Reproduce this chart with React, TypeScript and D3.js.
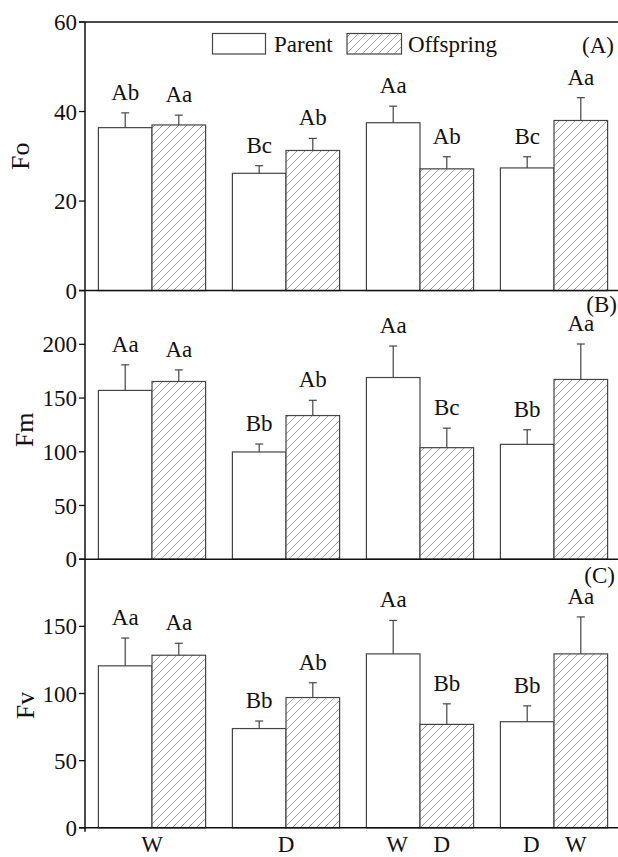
import React from "react";
import * as d3 from "d3";

// Treatments along the x axis and the two series drawn in each
const groups = ["G1", "G2", "G3", "G4"];
const series = ["Parent", "Offspring"];
const groupTickLabels = [["W"], ["D"], ["W", "D"], ["D", "W"]];

// Panel A: Fo
const foParent = [36.4, 26.2, 37.5, 27.4];
const foParentErr = [3.3, 1.7, 3.7, 2.5];
const foOffspring = [37.0, 31.3, 27.2, 38.0];
const foOffspringErr = [2.2, 2.7, 2.7, 5.1];
const foParentLetters = ["Ab", "Bc", "Aa", "Bc"];
const foOffspringLetters = ["Aa", "Ab", "Ab", "Aa"];
const foTicks = [0, 20, 40, 60];

// Panel B: Fm
const fmParent = [157.1, 99.8, 169.1, 106.9];
const fmParentErr = [23.8, 7.4, 29.3, 13.6];
const fmOffspring = [165.4, 133.7, 103.8, 167.3];
const fmOffspringErr = [10.8, 14.2, 18.2, 33.0];
const fmParentLetters = ["Aa", "Bb", "Aa", "Bb"];
const fmOffspringLetters = ["Aa", "Ab", "Bc", "Aa"];
const fmTicks = [0, 50, 100, 150, 200];

// Panel C: Fv
const fvParent = [120.6, 73.9, 129.5, 79.0];
const fvParentErr = [20.7, 5.6, 24.9, 11.8];
const fvOffspring = [128.5, 97.0, 77.0, 129.5];
const fvOffspringErr = [8.9, 11.0, 15.3, 27.5];
const fvParentLetters = ["Aa", "Bb", "Aa", "Bb"];
const fvOffspringLetters = ["Aa", "Ab", "Bb", "Aa"];
const fvTicks = [0, 50, 100, 150];

const panels = [
  {
    title: "Fo", tag: "(A)", max: 60, ticks: foTicks,
    values: [foParent, foOffspring], errors: [foParentErr, foOffspringErr],
    letters: [foParentLetters, foOffspringLetters],
  },
  {
    title: "Fm", tag: "(B)", max: 250, ticks: fmTicks,
    values: [fmParent, fmOffspring], errors: [fmParentErr, fmOffspringErr],
    letters: [fmParentLetters, fmOffspringLetters],
  },
  {
    title: "Fv", tag: "(C)", max: 200, ticks: fvTicks,
    values: [fvParent, fvOffspring], errors: [fvParentErr, fvOffspringErr],
    letters: [fvParentLetters, fvOffspringLetters],
  },
];

const W = 618;
const H = 857;
const left = 85;
const right = 621;
const top = 22;
const panelH = 268.6;

// Per-panel placement of the y title and the panel tag
const titleLayout = [
  { x: 20, dy: 0 },
  { x: 24, dy: 5 },
  { x: 25, dy: 12 },
];
const tagLayout = [
  { x: 614, dy: 23 },
  { x: 617, dy: 13 },
  { x: 615, dy: 16 },
];

const FONT = "'Liberation Serif', 'Times New Roman', 'DejaVu Serif', serif";
const INK = "#111";
const BAR_STROKE = "#444";
const textStyle = { fontFamily: FONT };

export default function App() {
  const x0 = d3.scaleBand<string>().domain(groups).range([left, right]).paddingInner(0.2).paddingOuter(0.1);
  const x1 = d3.scaleBand<string>().domain(series).range([0, x0.bandwidth()]);

  return (
    <svg
      width={W}
      height={H}
      style={{ position: "absolute", left: 0, top: 0, background: "#fff", fontFamily: FONT }}
    >
      <defs>
        <pattern id="hatch" patternUnits="userSpaceOnUse" width={8} height={8}>
          <rect width={8} height={8} fill="#fff" />
          <path d="M0,8 L8,0 M-2,2 L2,-2 M6,10 L10,6" stroke="#8a8a8a" strokeWidth={0.8} />
        </pattern>
      </defs>
      <rect width={W} height={H} fill="#fff" />

      {panels.map((p, pi) => {
        const pTop = top + pi * panelH;
        const pBottom = pTop + panelH;
        const y = d3.scaleLinear().domain([0, p.max]).range([pBottom, pTop]);
        return (
          <g key={p.title}>
            {/* bars, error bars and significance letters */}
            {groups.map((g, gi) =>
              series.map((s, si) => {
                const v = p.values[si][gi];
                const e = p.errors[si][gi];
                const bx = (x0(g) as number) + (x1(s) as number);
                const bw = x1.bandwidth();
                const cx = bx + bw / 2;
                const yTop = y(v + e);
                return (
                  <g key={g + s}>
                    <rect
                      x={bx}
                      y={y(v)}
                      width={bw}
                      height={y(0) - y(v)}
                      fill={si === 0 ? "#fff" : "url(#hatch)"}
                      stroke={BAR_STROKE}
                      strokeWidth={1.2}
                    />
                    <line x1={cx} x2={cx} y1={y(v)} y2={yTop} stroke={BAR_STROKE} strokeWidth={1.2} />
                    <line x1={cx - 4} x2={cx + 4} y1={yTop} y2={yTop} stroke={BAR_STROKE} strokeWidth={1.2} />
                    <text x={cx} y={yTop - 13} textAnchor="middle" fontSize={23} fill={INK} style={textStyle}>
                      {p.letters[si][gi]}
                    </text>
                  </g>
                );
              })
            )}

            {/* panel baseline / separator */}
            <line x1={left - 6} x2={W} y1={pBottom} y2={pBottom} stroke={INK} strokeWidth={1.5} />

            {/* y ticks */}
            {p.ticks.map((t) => (
              <g key={t}>
                <line x1={left - 6} x2={left} y1={y(t)} y2={y(t)} stroke={INK} strokeWidth={1.3} />
                <text x={left - 8} y={y(t)} dy="0.35em" textAnchor="end" fontSize={23} fill={INK} style={textStyle}>
                  {t}
                </text>
              </g>
            ))}

            {/* y title */}
            <text
              transform={`translate(${titleLayout[pi].x},${(pTop + pBottom) / 2 + titleLayout[pi].dy}) rotate(-90)`}
              textAnchor="middle"
              dy="0.35em"
              fontSize={26}
              fill={INK}
              style={textStyle}
            >
              {p.title}
            </text>

            {/* panel tag */}
            <text
              x={tagLayout[pi].x}
              y={pTop + tagLayout[pi].dy}
              dy="0.35em"
              textAnchor="end"
              fontSize={23}
              fill={INK}
              style={textStyle}
            >
              {p.tag}
            </text>
          </g>
        );
      })}

      {/* frame top and left axis */}
      <line x1={left} x2={W} y1={top} y2={top} stroke={INK} strokeWidth={1.5} />
      <line x1={left} x2={left} y1={top} y2={top + 3 * panelH + 4} stroke={INK} strokeWidth={1.5} />
      <line x1={left - 6} x2={left} y1={top} y2={top} stroke={INK} strokeWidth={1.3} />

      {/* x tick labels */}
      {groups.map((g, gi) => {
        const labels = groupTickLabels[gi];
        const gx = x0(g) as number;
        return labels.map((lab, li) => {
          const cx =
            labels.length === 1
              ? gx + x0.bandwidth() / 2
              : gx + (x1(series[li]) as number) + x1.bandwidth() / 2 + (li === 0 ? 4 : -5);
          return (
            <text
              key={g + lab}
              x={cx}
              y={top + 3 * panelH + 24}
              textAnchor="middle"
              fontSize={23}
              fill={INK}
              style={textStyle}
            >
              {lab}
            </text>
          );
        });
      })}

      {/* legend */}
      <g>
        <rect x={212.5} y={33.5} width={53} height={20.5} fill="#fff" stroke={BAR_STROKE} strokeWidth={1.2} />
        <text x={274} y={44} dy="0.35em" fontSize={23} fill={INK} style={textStyle}>
          {series[0]}
        </text>
        <rect x={347} y={33.5} width={54.5} height={20.5} fill="url(#hatch)" stroke={BAR_STROKE} strokeWidth={1.2} />
        <text x={408} y={44} dy="0.35em" fontSize={23} fill={INK} style={textStyle}>
          {series[1]}
        </text>
      </g>
    </svg>
  );
}
